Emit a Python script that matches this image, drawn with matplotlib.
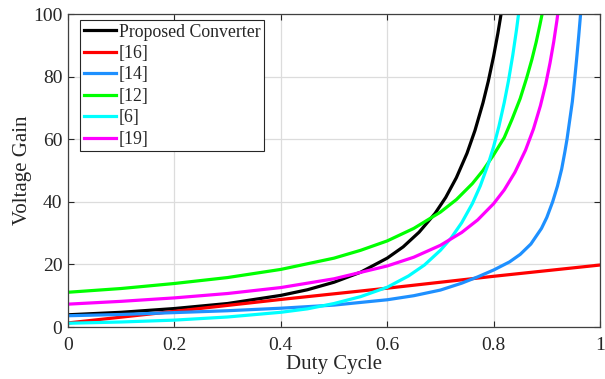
import matplotlib
matplotlib.use('Agg')
import matplotlib.pyplot as plt

# Valores (ganho de tensão x razão cíclica)
d_prop = [0, 0.1, 0.2, 0.3, 0.4, 0.45, 0.5, 0.55, 0.6, 0.63, 0.66, 0.69, 0.71, 0.73, 0.75,
          0.765, 0.78, 0.79, 0.8, 0.808, 0.815]
g_prop = [3.9, 4.7, 5.9, 7.5, 10.1, 11.9, 14.3, 17.5, 22, 25.6, 30.3, 36.3, 41.4, 47.7, 55.5,
          62.8, 71.6, 78.5, 86.5, 93.8, 101]

d_16 = [0, 0.2, 0.4, 0.6, 0.8, 1.0]
g_16 = [1.3, 5.0, 8.8, 12.4, 16.2, 19.8]

d_14 = [0, 0.1, 0.2, 0.3, 0.4, 0.5, 0.6, 0.65, 0.7, 0.74, 0.77, 0.8, 0.83, 0.85, 0.87, 0.89,
        0.9, 0.911, 0.92, 0.928, 0.934, 0.938, 0.943, 0.948, 0.952, 0.956, 0.96, 0.964, 0.968]
g_14 = [3.6, 4.0, 4.6, 5.2, 6.0, 7.0, 8.7, 10, 11.8, 14.0, 16, 18.2, 20.8, 23.2, 26.5, 31.5,
        35, 40, 45, 50.5, 56, 60, 66, 72, 78.5, 85.5, 93, 101, 109]

d_12 = [0, 0.1, 0.2, 0.3, 0.4, 0.5, 0.55, 0.6, 0.65, 0.7, 0.73, 0.76, 0.78, 0.8, 0.82, 0.835,
        0.85, 0.862, 0.872, 0.88, 0.887, 0.893, 0.9]
g_12 = [11.1, 12.3, 13.9, 15.8, 18.4, 22, 24.5, 27.5, 31.5, 36.7, 40.7, 45.8, 50, 55, 60.5, 66.5,
        73, 79.5, 85.5, 91, 96.5, 101.5, 109]

d_6 = [0, 0.1, 0.2, 0.3, 0.4, 0.45, 0.5, 0.55, 0.6, 0.64, 0.67, 0.7, 0.72, 0.74, 0.76, 0.775,
       0.79, 0.8, 0.81, 0.82, 0.828, 0.836, 0.843, 0.85]
g_6 = [1.2, 1.6, 2.2, 3.2, 4.7, 5.8, 7.5, 9.7, 12.7, 16.3, 19.8, 24.5, 28.4, 33.3, 39.4, 45.1,
       52.1, 57.6, 64.1, 71.7, 78.7, 86.8, 94.9, 104]

d_19 = [0, 0.1, 0.2, 0.3, 0.4, 0.5, 0.6, 0.65, 0.7, 0.74, 0.77, 0.8, 0.82, 0.84, 0.86, 0.875,
        0.888, 0.898, 0.906, 0.913, 0.919, 0.925]
g_19 = [7.3, 8.2, 9.3, 10.7, 12.6, 15.4, 19.5, 22.3, 26.1, 30.2, 34.2, 39.4, 43.8, 49.4, 56.5, 63.3,
        70.7, 77.6, 84.3, 91.1, 97.9, 105.7]

rotulos = ['Proposed Converter', '[16]', '[14]', '[12]', '[6]', '[19]']
cores = ['#000000', '#ff0000', '#1e90ff', '#00ff00', '#00ffff', '#ff00ff']

x_ticks = [0, 0.2, 0.4, 0.6, 0.8, 1]
x_labels = ['0', '0.2', '0.4', '0.6', '0.8', '1']
y_ticks = [0, 20, 40, 60, 80, 100]

plt.rcParams['font.family'] = ['Liberation Serif', 'DejaVu Serif']
plt.rcParams['text.color'] = '#262626'

fig = plt.figure(figsize=(6.05, 3.79), dpi=100)
ax = fig.add_axes([68 / 605, 52 / 379, 532 / 605, 313 / 379])

series = [(d_prop, g_prop), (d_16, g_16), (d_14, g_14), (d_12, g_12), (d_6, g_6), (d_19, g_19)]
for (d, g), rot, cor in zip(series, rotulos, cores):
    ax.plot(d, g, color=cor, lw=2.3, label=rot, solid_joinstyle='round')

ax.set_xlim(0, 1)
ax.set_ylim(0, 100)
ax.set_xticks(x_ticks)
ax.set_xticklabels(x_labels)
ax.set_yticks(y_ticks)
ax.grid(True, color='#dcdcdc', lw=0.9)
ax.set_axisbelow(True)
ax.tick_params(direction='in', top=True, right=True, length=4, width=0.8,
               labelsize=14, colors='#262626')
ax.tick_params(axis='y', pad=4)
ax.tick_params(axis='x', pad=7)
for s in ax.spines.values():
    s.set_color('#404040')
    s.set_linewidth(0.9)

ax.set_xlabel('Duty Cycle', fontsize=15, color='#262626', labelpad=1)
ax.set_ylabel('Voltage Gain', fontsize=15, color='#262626', labelpad=1)

leg = ax.legend(loc='upper left', bbox_to_anchor=(12 / 532, 1 - 6 / 313), borderaxespad=0,
                fontsize=12.8, fancybox=False, framealpha=1, edgecolor='#262626',
                handlelength=1.8, handletextpad=0.2, labelspacing=0.25, borderpad=0.2)
leg.get_frame().set_linewidth(0.8)

plt.savefig('out.png', dpi=100)
plt.close()
